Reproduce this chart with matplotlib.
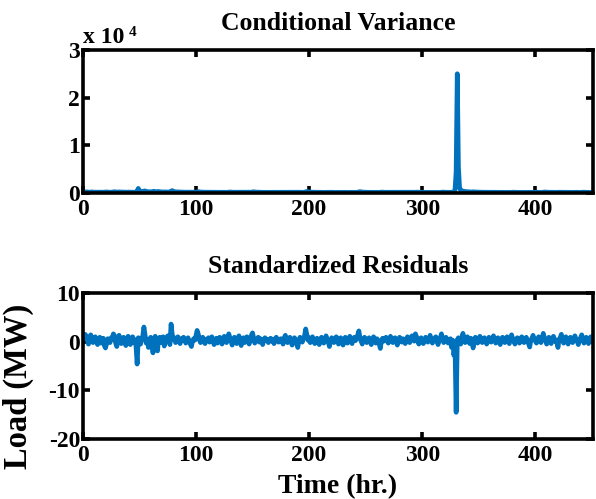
import numpy as np
import matplotlib
matplotlib.use("Agg")
import matplotlib.pyplot as plt
from matplotlib.ticker import FuncFormatter

# ---------------- data ----------------
cond_variance = [
    180, 220, 260, 240, 200, 190, 230, 250, 210, 180,
    200, 190, 170, 180, 200, 190, 170, 180, 190, 230,
    240, 210, 190, 180, 190, 200, 260, 280, 240, 230,
    220, 240, 230, 200, 190, 200, 190, 200, 190, 210,
    200, 190, 190, 200, 190, 180, 190, 420, 980, 560,
    380, 300, 280, 420, 460, 360, 300, 290, 280, 270,
    260, 350, 380, 300, 270, 330, 330, 290, 260, 240,
    240, 250, 240, 230, 240, 230, 220, 400, 520, 380,
    310, 270, 250, 240, 230, 220, 210, 210, 200, 200,
    190, 190, 190, 180, 180, 200, 190, 180, 180, 190,
    260, 300, 260, 230, 210, 200, 190, 190, 180, 180,
    180, 180, 170, 180, 180, 170, 170, 170, 170, 170,
    170, 170, 170, 160, 170, 170, 160, 160, 210, 230,
    210, 190, 180, 180, 170, 170, 170, 180, 180, 180,
    170, 170, 170, 170, 180, 170, 170, 160, 190, 250,
    280, 240, 210, 200, 190, 180, 170, 170, 170, 160,
    160, 160, 160, 160, 150, 150, 150, 150, 150, 150,
    150, 150, 150, 150, 150, 150, 150, 150, 170, 170,
    160, 160, 160, 150, 160, 150, 150, 150, 150, 180,
    190, 180, 170, 160, 160, 170, 280, 340, 280, 240,
    220, 200, 190, 180, 180, 170, 170, 160, 160, 160,
    160, 160, 160, 150, 170, 170, 160, 180, 180, 170,
    160, 160, 150, 160, 160, 160, 150, 150, 150, 160,
    160, 160, 150, 150, 150, 160, 160, 150, 150, 150,
    150, 150, 170, 260, 300, 250, 220, 200, 190, 180,
    170, 170, 170, 160, 160, 160, 160, 160, 160, 150,
    150, 150, 190, 210, 190, 180, 170, 170, 160, 160,
    160, 160, 170, 160, 150, 150, 150, 160, 150, 150,
    150, 150, 150, 150, 150, 150, 150, 150, 150, 150,
    160, 160, 150, 180, 200, 190, 180, 170, 170, 160,
    160, 150, 150, 150, 150, 150, 170, 170, 160, 150,
    150, 150, 150, 150, 150, 150, 190, 210, 190, 180,
    170, 170, 160, 160, 150, 170, 170, 260, 600, 4500,
    25000, 5500, 1200, 520, 400, 420, 380, 330, 300, 290,
    280, 260, 240, 230, 270, 250, 230, 220, 210, 200,
    200, 190, 190, 180, 180, 180, 170, 170, 170, 170,
    160, 160, 170, 170, 160, 160, 160, 160, 160, 160,
    160, 160, 150, 150, 160, 160, 150, 150, 180, 190,
    180, 170, 160, 160, 160, 150, 150, 160, 160, 150,
    150, 150, 150, 150, 170, 170, 160, 180, 180, 170,
    160, 160, 160, 150, 150, 150, 200, 230, 210, 190,
    180, 180, 170, 170, 160, 170, 170, 160, 150, 180,
    180, 170, 200, 200, 180, 170, 170, 160, 160, 160,
    160, 160, 150, 150, 170, 170, 160, 160, 150, 150,
    180, 190, 180, 170, 170, 160, 160, 150, 160, 160,
    160,
]

std_residuals = [
    0.8, 1.5, 1.2, 0.3, -0.5, 0.9, 1.4, 0.6, -0.2, 0.4,
    1.0, 0.2, -0.6, 0.5, 0.9, -0.3, 0.1, 0.7, -0.8, -1.3,
    -0.4, 0.6, 0.3, -0.2, 0.8, 0.4, 1.6, 1.2, -0.3, -1.0,
    0.2, 1.3, 0.5, -0.4, 0.3, 0.9, 0.1, -0.8, 0.5, 1.1,
    0.3, -0.6, 0.7, 1.0, -0.2, 0.4, -0.9, -4.6, 0.8, 0.2,
    -0.5, 0.6, 1.2, 3.0, 1.4, -0.3, 0.5, -1.2, 0.4, 0.9,
    -0.4, -2.3, 0.3, 1.1, 0.2, -1.9, 0.6, 0.9, -0.2, 0.4,
    1.0, -0.9, 0.3, 0.7, 1.2, 0.1, -0.6, 3.6, 1.5, 0.4,
    0.8, -0.2, 0.5, 1.0, 0.3, -0.4, 0.6, 0.2, 0.9, 0.5,
    -0.3, 0.4, 0.8, 0.1, -0.5, -1.0, 0.2, 0.6, 0.3, 1.2,
    2.3, 1.6, 0.4, -0.2, 0.7, 0.9, 0.1, -0.4, 0.5, 0.3,
    0.8, -0.1, 0.6, 1.0, 0.2, -0.6, 0.4, 0.7, -0.3, 0.5,
    0.9, 0.2, -0.5, 0.3, 1.1, 0.6, -0.2, 0.4, 1.6, 0.8,
    0.1, -0.7, 0.5, 0.9, 0.3, -0.4, 0.7, 1.2, 0.2, -0.8,
    0.4, 0.8, -0.2, 0.6, 1.0, 0.1, -0.5, 0.3, 1.3, 1.8,
    0.7, -0.3, 0.5, 0.2, 0.9, -0.1, 0.6, 0.3, -0.6, 0.4,
    0.8, 0.2, 0.5, -0.2, 0.3, 0.7, 0.1, 0.5, -0.4, 0.6,
    0.9, 0.4, -0.1, 0.3, 0.6, 0.2, -0.5, 0.8, 1.3, 0.5,
    -0.2, 0.4, 0.9, 0.1, -0.7, 0.3, 0.8, 0.5, -0.3, -1.2,
    0.2, 0.9, 0.4, -0.1, 0.6, 1.2, 2.6, 1.4, 0.3, 0.8,
    -0.2, 0.5, 1.0, 0.3, -0.4, 0.2, 0.7, 0.4, -0.6, 0.5,
    0.9, 0.2, -0.3, 0.5, 1.2, 0.4, -0.1, -1.0, 0.3, 0.8,
    0.5, -0.2, 0.4, 1.0, 0.6, -0.5, 0.2, 0.8, 0.3, -0.7,
    0.4, 0.9, 0.2, -0.3, 0.6, 1.1, 0.3, -0.4, 0.5, 0.9,
    0.2, 0.6, 1.4, 2.2, 0.8, 0.1, -0.5, 0.4, 0.9, 0.3,
    -0.2, 0.5, 0.8, 0.1, -0.6, 0.3, 1.0, 0.4, -0.3, 0.6,
    0.2, -0.5, -1.4, 0.3, 0.7, 0.1, 0.5, 0.9, 0.2, -0.3,
    0.6, 1.1, 0.4, -0.2, 0.5, 0.8, 0.1, -0.7, 0.3, 0.9,
    0.4, -0.1, 0.6, 0.2, -0.4, 0.5, 1.0, 0.3, -0.2, 0.7,
    1.2, 0.5, 0.1, 1.6, 1.0, 0.2, -0.5, 0.4, 0.8, 0.1,
    -0.4, 0.3, 0.9, 0.5, -0.1, 0.6, 1.3, 0.4, -0.3, 0.2,
    0.7, 1.0, 0.2, -0.6, 0.4, 0.8, 1.6, 0.5, -0.2, 0.3,
    0.9, 0.4, -0.3, 0.2, 0.6, -1.2, 0.3, -2.8, -1.0, -14.5,
    0.4, 0.8, 0.2, -0.5, 0.6, 1.7, 0.5, -0.2, 0.4, 1.0,
    0.3, -0.4, 0.7, 0.2, -1.3, 0.5, 0.9, 0.1, -0.3, 0.6,
    1.1, 0.4, -0.2, 0.5, 0.8, 0.1, -0.5, 0.3, 0.9, 0.4,
    -0.1, 0.6, 1.2, 0.5, -0.3, 0.4, 0.8, 0.2, -0.6, 0.3,
    0.9, 0.4, -0.2, 0.7, 1.0, 0.3, -0.4, 0.5, 1.4, 0.6,
    0.1, -0.5, 0.4, 0.8, 0.2, -0.3, 0.6, 1.0, 0.4, -0.2,
    0.5, 0.9, 0.3, -0.4, -1.1, 0.2, 0.7, 1.3, 0.5, 0.1,
    -0.3, 0.6, 1.0, 0.2, -0.2, 0.5, 1.7, 0.8, 0.3, -0.5,
    0.4, 0.9, 0.2, -0.4, 0.6, 1.1, 0.5, -0.1, 0.3, -1.2,
    0.5, 0.8, 1.5, 0.4, -0.3, 0.6, 1.0, 0.2, -0.5, 0.4,
    0.9, 0.3, -0.2, 0.7, 1.2, 0.5, 0.1, -0.6, 0.3, 0.8,
    1.4, 0.6, -0.3, 0.4, 0.9, 0.2, -0.4, 0.5, 1.0, 0.3,
    0.6,
]

x_ticks = [0, 100, 200, 300, 400]
var_ticks = [0, 10000, 20000, 30000]
res_ticks = [-20, -10, 0, 10]

titles = ["Conditional Variance", "Standardized Residuals"]
xlabel = "Time (hr.)"
ylabel = "Load (MW)"

# ---------------- style ----------------
FONT = "Liberation Serif"
plt.rcParams["font.family"] = [FONT, "DejaVu Serif"]
plt.rcParams["font.weight"] = "bold"
plt.rcParams["axes.unicode_minus"] = False
COLOR = "#0072BD"

fig = plt.figure(figsize=(5.96, 4.99), dpi=100)
ax1 = fig.add_axes([0.139, 0.613, 0.856, 0.287])
ax2 = fig.add_axes([0.139, 0.120, 0.856, 0.293])

t1 = np.arange(1, len(cond_variance) + 1)
t2 = np.arange(1, len(std_residuals) + 1)
xmax = 451

ax1.plot(t1, cond_variance, color=COLOR, lw=3.4, zorder=2)
ax2.plot(t2, std_residuals, color=COLOR, lw=3.4, zorder=2)

ax1.set_ylim(0, 30000)
ax1.set_yticks(var_ticks)
ax1.yaxis.set_major_formatter(FuncFormatter(lambda v, p: f"{v/1e4:g}"))
ax2.set_ylim(-20, 10)
ax2.set_yticks(res_ticks)

for ax, title in zip([ax1, ax2], titles):
    ax.set_xlim(0, xmax)
    ax.set_xticks(x_ticks)
    for s in ax.spines.values():
        s.set_linewidth(2.6)
        s.set_zorder(3)
    ax.tick_params(direction="in", length=5, width=2.6, top=True, right=True,
                   labelsize=17)
    ax.tick_params(axis="x", pad=4)
    ax.tick_params(axis="y", pad=2)
    for lab in ax.get_xticklabels() + ax.get_yticklabels():
        lab.set_fontweight("bold")
    ax.set_title(title, fontsize=18.5, fontweight="bold", pad=14)

ax1.text(0.0, 1.01, "x 10", transform=ax1.transAxes, fontsize=17,
         fontweight="bold", ha="left", va="bottom")
ax1.text(0.09, 1.075, "4", transform=ax1.transAxes, fontsize=11,
         fontweight="bold", ha="left", va="bottom")

ax2.set_xlabel(xlabel, fontsize=20, fontweight="bold", labelpad=6)
ax2.set_ylabel(ylabel, fontsize=23.5, fontweight="bold")
ax2.yaxis.set_label_coords(-0.095, 0.36)

fig.savefig("out.png", dpi=100)
